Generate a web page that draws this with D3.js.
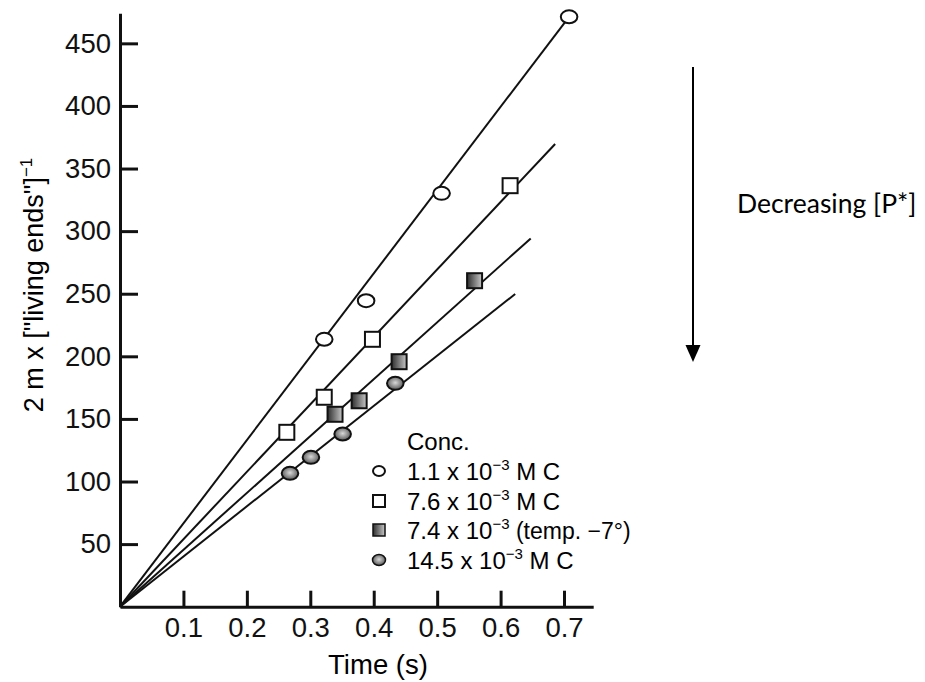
<!DOCTYPE html>
<meta charset="utf-8">
<style>
body { margin: 0; background: #fff; }
svg { display: block; font-family: "Liberation Sans", Arial, sans-serif; }
.axis path, .axis line { stroke: #111; stroke-width: 3; }
.axis text { font-size: 27.5px; fill: #111; font-family: "Liberation Sans", Arial, sans-serif; }
.fit { stroke: #111; stroke-width: 2; fill: none; }
</style>
<svg width="925" height="682"></svg>
<script src="https://d3js.org/d3.v7.min.js"></script>
<script>
// data: time (s) vs 2 m x ["living ends"]^-1
var seriesNames = ["1.1", "7.6", "7.4", "14.5"];
var openCircT = [0.322, 0.388, 0.507, 0.708];
var openCircV = [213.6, 244.4, 330.2, 471.2];
var openSqT = [0.263, 0.322, 0.398, 0.615];
var openSqV = [139.3, 167.3, 213.6, 336.3];
var graySqT = [0.339, 0.377, 0.440, 0.559];
var graySqV = [153.7, 164.5, 195.7, 260.4];
var grayCircT = [0.268, 0.301, 0.351, 0.434];
var grayCircV = [106.5, 119.3, 137.9, 178.4];
// end points of the fitted lines (all start at the origin)
var fitEndT = [0.708, 0.686, 0.6475, 0.623];
var fitEndV = [471.2, 369.6, 294.2, 249.8];
var xTicks = [0.1, 0.2, 0.3, 0.4, 0.5, 0.6, 0.7];
var yTicks = [50, 100, 150, 200, 250, 300, 350, 400, 450];

var svg = d3.select("svg");

var x = d3.scaleLinear().domain([0, 0.746]).range([120, 593.2]),
    y = d3.scaleLinear().domain([0, 474]).range([606.7, 13.3]);

var defs = svg.append("defs");
var lg = defs.append("linearGradient").attr("id", "sqfill");
lg.append("stop").attr("offset", "0%").attr("stop-color", "#2e2e2e");
lg.append("stop").attr("offset", "100%").attr("stop-color", "#c8c8c8");
var rg = defs.append("radialGradient").attr("id", "cfill").attr("cx", "50%").attr("cy", "45%").attr("r", "55%");
rg.append("stop").attr("offset", "0%").attr("stop-color", "#d8d8d8");
rg.append("stop").attr("offset", "100%").attr("stop-color", "#555");

// fitted lines
svg.selectAll(".fit")
  .data(fitEndT)
  .enter().append("line")
    .attr("class", "fit")
    .attr("x1", x(0))
    .attr("y1", y(0))
    .attr("x2", function(d) { return x(d); })
    .attr("y2", function(d, i) { return y(fitEndV[i]); });

// axes
svg.append("g")
    .attr("class", "axis")
    .attr("transform", "translate(0," + y(0) + ")")
    .call(d3.axisBottom(x).tickValues(xTicks).tickFormat(d3.format(".1f"))
      .tickSizeInner(-16).tickSizeOuter(0).tickPadding(11));

svg.append("g")
    .attr("class", "axis")
    .attr("transform", "translate(" + x(0) + ",0)")
    .call(d3.axisLeft(y).tickValues(yTicks).tickFormat(d3.format("d"))
      .tickSizeInner(-18).tickSizeOuter(0).tickPadding(9));

// markers
function ellipses(ts, vs, fill) {
  svg.append("g").selectAll("ellipse")
    .data(ts)
    .enter().append("ellipse")
      .attr("cx", function(d) { return x(d); })
      .attr("cy", function(d, i) { return y(vs[i]); })
      .attr("rx", 8.3).attr("ry", 6.5)
      .attr("fill", fill)
      .attr("stroke", "#111")
      .attr("stroke-width", 2);
}
function squares(ts, vs, fill) {
  svg.append("g").selectAll("rect")
    .data(ts)
    .enter().append("rect")
      .attr("x", function(d) { return x(d) - 7.5; })
      .attr("y", function(d, i) { return y(vs[i]) - 7.5; })
      .attr("width", 15).attr("height", 15)
      .attr("fill", fill)
      .attr("stroke", "#111")
      .attr("stroke-width", 2);
}
ellipses(openCircT, openCircV, "#fff");
squares(openSqT, openSqV, "#fff");
squares(graySqT, graySqV, "url(#sqfill)");
ellipses(grayCircT, grayCircV, "url(#cfill)");

// axis titles
svg.append("text")
    .attr("x", 378).attr("y", 674)
    .attr("text-anchor", "middle")
    .style("font-size", "27.5px")
    .text("Time (s)");

var yl = svg.append("text")
    .attr("transform", "translate(43,285) rotate(-90)")
    .attr("text-anchor", "middle")
    .style("font-size", "27px");
yl.append("tspan").text("2 m x [\"living ends\"]");
yl.append("tspan").attr("dy", -11).style("font-size", "17px").text("\u22121");

// legend
var leg = svg.append("g").attr("transform", "translate(379,0)");
leg.append("text").attr("x", 28).attr("y", 450).style("font-size", "24px").text("Conc.");
var legY = [471, 501, 530, 560];
var legText = [
  ["1.1 x 10", "\u22123", " M C"],
  ["7.6 x 10", "\u22123", " M C"],
  ["7.4 x 10", "\u22123", " (temp. \u22127\u00b0)"],
  ["14.5 x 10", "\u22123", " M C"]
];
leg.append("ellipse").attr("cx", 0).attr("cy", legY[0]).attr("rx", 6).attr("ry", 5)
  .attr("fill", "#fff").attr("stroke", "#111").attr("stroke-width", 2);
leg.append("rect").attr("x", -6).attr("y", legY[1] - 6).attr("width", 12).attr("height", 12)
  .attr("fill", "#fff").attr("stroke", "#111").attr("stroke-width", 2);
leg.append("rect").attr("x", -6).attr("y", legY[2] - 6).attr("width", 12).attr("height", 12)
  .attr("fill", "url(#sqfill)").attr("stroke", "#111").attr("stroke-width", 1.5);
leg.append("ellipse").attr("cx", 0).attr("cy", legY[3]).attr("rx", 6.5).attr("ry", 5.5)
  .attr("fill", "url(#cfill)").attr("stroke", "#111").attr("stroke-width", 1.5);

legText.forEach(function(parts, i) {
  var t = leg.append("text")
      .attr("x", 28).attr("y", legY[i] + 9)
      .style("font-size", "24px");
  t.append("tspan").text(parts[0]);
  t.append("tspan").attr("dy", -10).style("font-size", "15px").text(parts[1]);
  t.append("tspan").attr("dy", 10).style("font-size", i === 2 ? "23px" : "24px").text(parts[2]);
});

// annotation arrow
svg.append("line")
    .attr("x1", 693).attr("y1", 67).attr("x2", 693).attr("y2", 348)
    .attr("stroke", "#000").attr("stroke-width", 2);
svg.append("path")
    .attr("d", "M685.5,345L700.5,345L693,362Z")
    .attr("fill", "#000");
svg.append("text")
    .attr("x", 737).attr("y", 213)
    .style("font-family", "Lato, 'Open Sans', sans-serif")
    .style("font-size", "26.5px")
    .text("Decreasing [P*]");
</script>
